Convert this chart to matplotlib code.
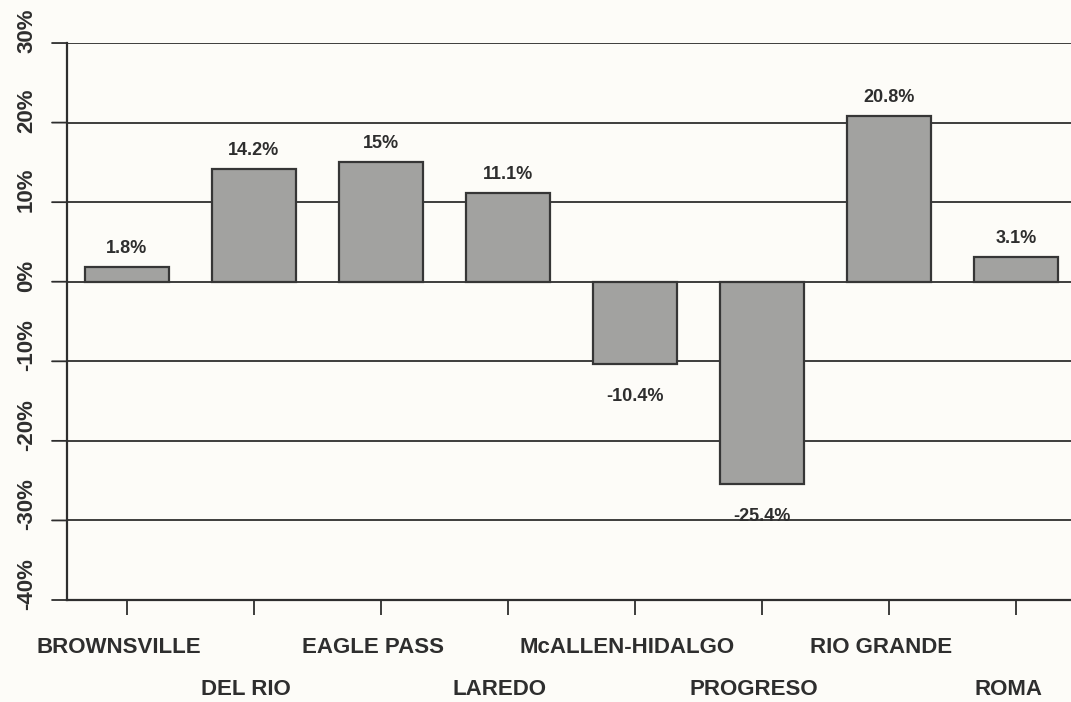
import matplotlib
matplotlib.use("Agg")
import matplotlib.pyplot as plt

matplotlib.rcParams.update({"font.family": ["Liberation Sans", "DejaVu Sans"]})

# percent change by port
ports = ["BROWNSVILLE", "DEL RIO", "EAGLE PASS", "LAREDO",
         "McALLEN-HIDALGO", "PROGRESO", "RIO GRANDE", "ROMA"]
change = [1.8, 14.2, 15.0, 11.1, -10.4, -25.4, 20.8, 3.1]
value_labels = ["1.8%", "14.2%", "15%", "11.1%", "-10.4%", "-25.4%", "20.8%", "3.1%"]
yticks = [-40, -30, -20, -10, 0, 10, 20, 30]
ytick_labels = ["-40%", "-30%", "-20%", "-10%", "0%", "10%", "20%", "30%"]

ink = "#2e2e2e"
bg = "#fdfcf8"

fig = plt.figure(figsize=(10.71, 7.02), dpi=100, facecolor=bg)
ax = fig.add_axes([0.0626, 0.1453, 0.9374, 0.7934], facecolor=bg)

x = list(range(len(ports)))
ax.bar(x, change, width=0.66, color="#a2a2a0", edgecolor="#363636",
       linewidth=1.6, zorder=3)

ax.set_xlim(-0.472, 7.433)
ax.set_ylim(-40, 30)

# gridlines double as y ticks (they run a bit past the spine)
for v in yticks:
    ax.axhline(v, color=ink, linewidth=1.3, zorder=2)
    ax.annotate("", xy=(0, v), xycoords=ax.get_yaxis_transform(),
                xytext=(-15, 0), textcoords="offset pixels",
                arrowprops=dict(arrowstyle="-", color=ink, lw=1.3,
                                shrinkA=0, shrinkB=0), annotation_clip=False)
for v, lab in zip(yticks, ytick_labels):
    ax.annotate(lab, xy=(0, v), xycoords=ax.get_yaxis_transform(),
                xytext=(-30, -10), textcoords="offset pixels",
                rotation=90, ha="right", va="bottom", fontsize=16,
                fontweight="bold", color=ink, annotation_clip=False)

ax.set_yticks([])
ax.set_xticks(x)
ax.set_xticklabels([])
ax.tick_params(axis="x", length=11, width=1.3, color=ink, direction="out")

for side in ["top", "right"]:
    ax.spines[side].set_visible(False)
for side in ["left", "bottom"]:
    ax.spines[side].set_color(ink)
    ax.spines[side].set_linewidth(1.6)

# category labels alternate between two rows
for i, name in enumerate(ports):
    dy = -48 if i % 2 == 0 else -90
    ax.annotate(name, xy=(i, 0), xycoords=ax.get_xaxis_transform(),
                xytext=(-8, dy), textcoords="offset pixels",
                ha="center", va="center", fontsize=16, fontweight="bold",
                color=ink, annotation_clip=False)

# value labels
for i, (v, lab) in enumerate(zip(change, value_labels)):
    if v >= 0:
        ax.annotate(lab, xy=(i, v), xytext=(0, 10), textcoords="offset pixels",
                    ha="center", va="bottom", fontsize=13, fontweight="bold",
                    color=ink)
    else:
        ax.annotate(lab, xy=(i, v), xytext=(0, -24), textcoords="offset pixels",
                    ha="center", va="top", fontsize=13, fontweight="bold",
                    color=ink)

fig.savefig("out.png", dpi=100, facecolor=bg)
